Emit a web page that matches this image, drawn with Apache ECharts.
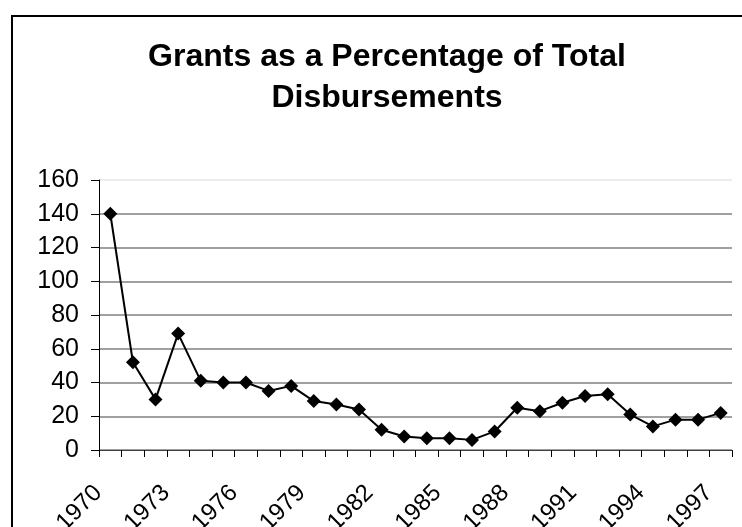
<!DOCTYPE html>
<html>
<head>
<meta charset="utf-8">
<script src="https://cdn.jsdelivr.net/npm/echarts@6/dist/echarts.min.js"></script>
<style>
  html, body { margin: 0; padding: 0; background: #fff; }
  #chart { width: 742px; height: 527px; }
</style>
</head>
<body>
<div id="chart"></div>
<script>
// Years on the category axis
const years = [
  '1970', '1971', '1972', '1973', '1974', '1975', '1976', '1977', '1978', '1979',
  '1980', '1981', '1982', '1983', '1984', '1985', '1986', '1987', '1988', '1989',
  '1990', '1991', '1992', '1993', '1994', '1995', '1996', '1997'
];

// Grants as a percentage of total disbursements, one value per year
const grantShare = [
  140, 52, 30, 69, 41, 40, 40, 35, 38, 29,
  27, 24, 12, 8, 7, 7, 6, 11, 25, 23,
  28, 32, 33, 21, 14, 18, 18, 22
];

// Value axis ticks
const yMin = 0;
const yMax = 160;
const yStep = 20;

const FONT = '"Liberation Sans", Arial, Helvetica, sans-serif';

const chart = echarts.init(document.getElementById('chart'), null, { renderer: 'canvas' });

// Grid lines: mid grey, the top one pale
const gridColors = [];
for (let v = yMin; v <= yMax; v += yStep) {
  gridColors.push(v === yMax ? '#e6e6e6' : '#808080');
}

chart.setOption({
  backgroundColor: '#ffffff',
  animation: false,
  title: {
    text: 'Grants as a Percentage of Total\nDisbursements',
    left: 382,
    top: 32,
    textAlign: 'center',
    textStyle: {
      fontFamily: FONT,
      fontSize: 32,
      fontWeight: 'bold',
      color: '#000',
      lineHeight: 41
    }
  },
  graphic: [
    {
      type: 'rect',
      shape: { x: 12, y: 16, width: 900, height: 700 },
      style: { fill: 'none', stroke: '#000', lineWidth: 2 },
      z: 100
    }
  ],
  grid: {
    left: 99,
    right: 10,
    top: 180,
    bottom: 77,
    containLabel: false,
    outerBoundsMode: 'none'
  },
  xAxis: {
    type: 'category',
    data: years,
    boundaryGap: true,
    axisLine: { show: true, lineStyle: { color: '#404040', width: 1 } },
    axisTick: {
      show: true,
      interval: 0,
      alignWithLabel: false,
      length: 7,
      lineStyle: { color: '#000', width: 1 }
    },
    axisLabel: {
      interval: 2,
      rotate: 45,
      margin: 27,
      padding: [0, 17, 0, 0],
      fontFamily: FONT,
      fontSize: 24,
      color: '#000'
    },
    splitLine: { show: false }
  },
  yAxis: {
    type: 'value',
    min: yMin,
    max: yMax,
    interval: yStep,
    axisLine: { show: true, lineStyle: { color: '#000', width: 1 } },
    axisTick: { show: true, length: 8, lineStyle: { color: '#000', width: 1 } },
    axisLabel: {
      margin: 20,
      fontFamily: FONT,
      fontSize: 25,
      color: '#000'
    },
    splitLine: { show: true, lineStyle: { color: gridColors, width: 1.5 } }
  },
  series: [
    {
      type: 'line',
      data: grantShare,
      symbol: 'diamond',
      symbolSize: 14,
      showAllSymbol: true,
      lineStyle: { color: '#000', width: 2 },
      itemStyle: { color: '#000' },
      z: 3
    }
  ]
});
</script>
</body>
</html>
